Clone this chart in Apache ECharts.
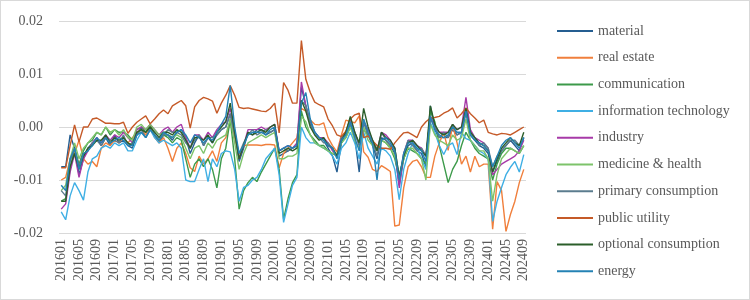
<!DOCTYPE html>
<html>
<head>
<meta charset="utf-8">
<script src="https://cdn.jsdelivr.net/npm/echarts@6/dist/echarts.min.js"></script>
<style>
  html, body { margin: 0; padding: 0; background: #fff; }
  #chart { width: 750px; height: 300px; box-sizing: border-box; border: 1px solid #d9d9d9; }
</style>
</head>
<body>
<div id="chart"></div>
<script>
const months = [
  '201601','201602','201603','201604','201605','201606','201607','201608','201609','201610','201611','201612',
  '201701','201702','201703','201704','201705','201706','201707','201708','201709','201710','201711','201712',
  '201801','201802','201803','201804','201805','201806','201807','201808','201809','201810','201811','201812',
  '201901','201902','201903','201904','201905','201906','201907','201908','201909','201910','201911','201912',
  '202001','202002','202003','202004','202005','202006','202007','202008','202009','202010','202011','202012',
  '202101','202102','202103','202104','202105','202106','202107','202108','202109','202110','202111','202112',
  '202201','202202','202203','202204','202205','202206','202207','202208','202209','202210','202211','202212',
  '202301','202302','202303','202304','202305','202306','202307','202308','202309','202310','202311','202312',
  '202401','202402','202403','202404','202405','202406','202407','202408','202409'
];

const material = [-0.0075, -0.0075, -0.0015, -0.004, -0.009, -0.006, -0.004, -0.003, -0.002, -0.0035,
  -0.002, -0.0035, -0.0015, -0.003, -0.0025, -0.0035, -0.004, -0.0015, 0, -0.001,
  -0.0005, -0.0015, -0.003, -0.0015, -0.0015, -0.0025, -0.001, -0.0005, -0.002, -0.005,
  -0.003, -0.0015, -0.0035, -0.002, -0.003, -0.0015, -0.0005, 0, 0.0025, -0.0015,
  -0.0065, -0.004, -0.001, -0.0015, -0.0005, -0.0005, -0.0015, -0.001, -0.0005, -0.0055,
  -0.005, -0.0045, -0.004, -0.0035, 0.0075, 0.004, 0.001, -0.001, -0.002, -0.0025,
  -0.004, -0.0055, -0.0085, -0.003, -0.001, 0.0005, -0.002, -0.0085, 0.001, -0.0015,
  -0.0035, -0.006, -0.002, -0.0025, -0.0035, -0.005, -0.011, -0.006, -0.0035, -0.003,
  -0.0045, -0.005, -0.0075, 0.004, -0.0005, -0.002, -0.002, -0.002, -0.0005, -0.0015,
  -0.001, 0.0035, -0.0015, -0.0025, -0.0035, -0.004, -0.005, -0.0085, -0.0065, -0.0045,
  -0.0035, -0.0025, -0.0035, -0.0045, -0.002];

const realEstate = [-0.01, -0.0095, -0.006, -0.005, -0.0025, -0.006, -0.007, -0.0065, -0.0075, -0.004,
  -0.003, -0.0035, -0.0025, -0.003, -0.002, -0.003, -0.002, -0.001, -0.0005, -0.0015,
  0.0003, -0.002, -0.003, -0.002, -0.004, -0.0065, -0.004, -0.003, -0.005, -0.0077,
  -0.0084, -0.0055, -0.007, -0.006, -0.0045, -0.0065, -0.003, -0.002, 0.001, -0.002,
  -0.0052, -0.0035, -0.0034, -0.0034, -0.0034, -0.0035, -0.0033, -0.0033, -0.0034, -0.0077,
  -0.005, -0.004, -0.003, -0.002, 0.0035, 0.003, 0.0013, 0.0005, 0.0004, 0.0008,
  -0.002, -0.0035, -0.0047, -0.0015, 0.0013, 0.001, 0.0008, 0.0021, -0.0047, -0.0057,
  -0.008, -0.0084, -0.0073, -0.0078, -0.0084, -0.0187, -0.0185, -0.0115, -0.0075, -0.0065,
  -0.0062, -0.0075, -0.0095, -0.0095, -0.0055, -0.003, -0.001, -0.0044, 0.0004, -0.003,
  -0.007, -0.0055, -0.0085, -0.0055, -0.0075, -0.007, -0.007, -0.0193, -0.0103, -0.012,
  -0.0197, -0.0165, -0.014, -0.0105, -0.008];

const communication = [-0.014, -0.0135, -0.008, -0.004, -0.007, -0.0045, -0.003, -0.0025, -0.001, -0.0015,
  0, -0.0015, -0.0005, -0.001, -0.001, -0.0015, -0.0025, -0.0005, 0, -0.001,
  0.0005, -0.0015, -0.0025, -0.0015, -0.002, -0.003, -0.002, -0.0025, -0.006, -0.0095,
  -0.007, -0.006, -0.0075, -0.006, -0.008, -0.0115, -0.006, -0.004, 0.0015, -0.006,
  -0.0155, -0.012, -0.0105, -0.0095, -0.0103, -0.0085, -0.007, -0.0055, -0.004, -0.008,
  -0.0174, -0.0135, -0.0105, -0.009, 0.003, 0, -0.0015, -0.0025, -0.0035, -0.0035,
  -0.0045, -0.005, -0.0055, -0.003, -0.002, 0, -0.0015, -0.003, -0.0005, -0.0015,
  -0.003, -0.004, -0.0025, -0.003, -0.004, -0.006, -0.0095, -0.006, -0.004, -0.0045,
  -0.005, -0.006, -0.007, 0.003, 0.001, -0.0035, -0.007, -0.0105, -0.008, -0.0065,
  -0.0035, -0.001, -0.0025, -0.004, -0.005, -0.0055, -0.006, -0.01, -0.007, -0.005,
  -0.004, -0.004, -0.0045, -0.005, -0.0035];

const infoTech = [-0.016, -0.0175, -0.013, -0.0105, -0.012, -0.0138, -0.0085, -0.006, -0.0055, -0.004,
  -0.0035, -0.004, -0.003, -0.0035, -0.003, -0.0045, -0.0045, -0.0025, -0.001, -0.002,
  -0.0005, -0.002, -0.003, -0.0025, -0.003, -0.0035, -0.003, -0.004, -0.01, -0.0103,
  -0.0103, -0.008, -0.006, -0.0103, -0.006, -0.0075, -0.005, -0.0045, -0.0047, -0.008,
  -0.014, -0.0114, -0.011, -0.01, -0.0095, -0.008, -0.006, -0.005, -0.004, -0.009,
  -0.018, -0.0145, -0.011, -0.0095, 0, -0.002, -0.003, -0.003, -0.0035, -0.004,
  -0.0045, -0.0055, -0.007, -0.004, -0.003, -0.001, -0.003, -0.006, -0.001, -0.004,
  -0.0055, -0.007, -0.004, -0.0045, -0.0055, -0.008, -0.0137, -0.008, -0.005, -0.003,
  -0.004, -0.006, -0.008, 0.0008, -0.001, -0.0035, -0.0052, -0.0035, -0.003, -0.0052,
  -0.001, -0.0022, -0.0025, -0.0035, -0.0045, -0.005, -0.006, -0.0178, -0.014, -0.0114,
  -0.009, -0.0076, -0.0065, -0.0085, -0.0052];

const industry = [-0.0155, -0.0145, -0.0085, -0.005, -0.0095, -0.006, -0.0045, -0.003, -0.002, -0.003,
  -0.0015, -0.0025, -0.0015, -0.002, -0.001, -0.002, -0.003, -0.0005, 0, -0.0005,
  0.0005, -0.0005, -0.0015, -0.0005, 0, -0.001, 0, 0.0005, -0.002, -0.004,
  -0.0015, -0.0015, -0.0025, -0.001, -0.002, -0.0005, 0.0005, 0.001, 0.0035, -0.0005,
  -0.006, -0.0035, -0.0005, -0.0005, -0.0005, 0, -0.0005, 0, 0.0005, -0.0045,
  -0.004, -0.0035, -0.004, -0.003, 0.0085, 0.004, 0.0005, -0.001, -0.002, -0.002,
  -0.003, -0.0045, -0.0055, -0.002, -0.001, 0.0015, -0.001, -0.0035, 0.001, -0.0005,
  -0.0025, -0.0045, -0.001, -0.0015, -0.0025, -0.004, -0.0115, -0.005, -0.0025, -0.0025,
  -0.0035, -0.004, -0.0055, 0.002, 0, -0.001, -0.001, -0.001, 0.0005, -0.0005,
  0, 0.0056, -0.0005, -0.002, -0.0025, -0.003, -0.004, -0.009, -0.008, -0.007,
  -0.0065, -0.006, -0.0055, -0.0045, -0.0025];

const medicine = [-0.012, -0.011, -0.006, -0.003, -0.006, -0.004, -0.003, -0.002, -0.001, -0.0015,
  0, -0.001, -0.0005, -0.0015, -0.0005, -0.002, -0.0025, 0, 0.0005, -0.0005,
  0.0005, -0.0005, -0.0015, -0.001, -0.0015, -0.002, -0.0015, -0.002, -0.004, -0.006,
  -0.004, -0.0035, -0.005, -0.003, -0.004, -0.0025, -0.002, -0.0015, 0.0015, -0.003,
  -0.008, -0.005, -0.003, -0.0025, -0.002, -0.0015, -0.002, -0.0015, -0.001, -0.006,
  -0.006, -0.0055, -0.0055, -0.005, 0.002, 0.001, -0.0015, -0.003, -0.0035, -0.004,
  -0.0045, -0.005, -0.005, -0.003, -0.002, 0, -0.0025, -0.004, 0, -0.0025,
  -0.0035, -0.0045, -0.0025, -0.003, -0.004, -0.0055, -0.009, -0.006, -0.004, -0.004,
  -0.005, -0.006, -0.01, 0.0005, -0.0015, -0.0025, -0.003, -0.0035, -0.0015, -0.0025,
  -0.002, 0.0015, -0.0025, -0.0035, -0.0045, -0.0045, -0.006, -0.014, -0.009, -0.006,
  -0.005, -0.004, -0.0045, -0.005, -0.0035];

const primaryCons = [-0.012, -0.013, -0.0065, -0.004, -0.0075, -0.005, -0.0045, -0.003, -0.0025, -0.0035,
  -0.002, -0.0025, -0.0025, -0.003, -0.0015, -0.0035, -0.003, -0.0015, -0.0005, -0.002,
  -0.0005, -0.0015, -0.0025, -0.0015, -0.0005, -0.001, -0.001, -0.0015, -0.003, -0.004,
  -0.0025, -0.0015, -0.0035, -0.002, -0.002, -0.0015, -0.0005, 0, 0.0025, -0.0015,
  -0.005, -0.003, -0.0015, -0.0005, -0.0015, -0.001, -0.0005, -0.001, -0.0005, -0.0045,
  -0.004, -0.0045, -0.004, -0.0035, 0.005, 0.004, 0.0005, -0.001, -0.002, -0.003,
  -0.003, -0.004, -0.0055, -0.002, -0.001, 0.0005, -0.001, -0.0035, 0.001, -0.0015,
  -0.0025, -0.0055, -0.001, -0.0025, -0.0035, -0.004, -0.0095, -0.005, -0.0025, -0.0035,
  -0.0045, -0.004, -0.0055, 0.0015, 0, -0.002, -0.001, -0.002, 0.0005, -0.0015,
  -0.001, 0.0025, -0.001, -0.002, -0.0035, -0.003, -0.004, -0.0075, -0.0055, -0.0045,
  -0.0035, -0.0025, -0.0025, -0.0035, -0.002];

const publicUtility = [-0.0077, -0.0077, -0.0035, 0.0004, -0.0028, 0, 0, 0.0015, 0.0017, 0.0012,
  0.0007, 0.0007, 0.0006, 0.0006, 0.0009, -0.0012, 0, 0.0009, 0.0015, 0.0021,
  0.0006, 0.0015, 0.0025, 0.0032, 0.0025, 0.004, 0.0045, 0.005, 0.004, -0.0002,
  0.0038, 0.005, 0.0056, 0.0053, 0.0049, 0.0026, 0.0045, 0.006, 0.0078, 0.006,
  0.0037, 0.0035, 0.0036, 0.0034, 0.0032, 0.003, 0.0029, 0.0035, 0.0045, -0.0011,
  0.0084, 0.0069, 0.0045, 0.0045, 0.0163, 0.009, 0.0065, 0.0047, 0.0042, 0.0038,
  0.0015, 0.0002, -0.0015, -0.0018, -0.0008, 0.0015, 0.0023, 0.0026, -0.002, -0.0017,
  -0.0026, -0.0035, -0.004, -0.004, -0.0042, -0.003, -0.002, -0.0011, -0.001, -0.0015,
  -0.002, 0, 0.001, 0.0017, 0.0018, 0.002, 0.0026, 0.003, 0.0036, 0.0017,
  0.0025, 0.0036, 0.0025, 0.0017, 0.0008, 0.0013, -0.001, -0.0013, -0.0015, -0.0012,
  -0.0013, -0.0015, -0.001, -0.0005, 0];

const optionalCons = [-0.014, -0.014, -0.0075, -0.005, -0.008, -0.0055, -0.004, -0.0035, -0.0025, -0.0025,
  -0.0015, -0.003, -0.002, -0.0025, -0.002, -0.003, -0.0035, -0.001, -0.0005, -0.001,
  0, -0.001, -0.002, -0.001, -0.001, -0.0015, -0.0005, -0.001, -0.0025, -0.004,
  -0.002, -0.002, -0.0025, -0.0015, -0.003, -0.001, 0, 0.001, 0.0045, -0.001,
  -0.006, -0.0035, -0.001, -0.0015, -0.001, -0.0005, -0.001, 0, 0.0005, -0.005,
  -0.0045, -0.004, -0.0045, -0.004, 0.005, 0.003, 0, -0.0015, -0.0025, -0.002,
  -0.0035, -0.004, -0.0055, -0.0025, -0.001, 0.002, -0.001, -0.003, 0.0035, 0,
  -0.0025, -0.0045, -0.001, -0.002, -0.0025, -0.004, -0.0095, -0.0055, -0.003, -0.0025,
  -0.0035, -0.0045, -0.0055, 0.004, 0.0005, -0.001, -0.0015, -0.001, 0.0005, -0.0005,
  0, 0.0035, -0.001, -0.002, -0.003, -0.0035, -0.0045, -0.0085, -0.006, -0.004,
  -0.003, -0.002, -0.003, -0.0035, -0.001];

const energy = [-0.011, -0.012, -0.006, -0.004, -0.008, -0.005, -0.0045, -0.0035, -0.002, -0.003,
  -0.002, -0.003, -0.0025, -0.002, -0.0025, -0.0035, -0.0035, -0.0015, -0.001, -0.002,
  -0.0005, -0.0015, -0.0025, -0.001, -0.0015, -0.002, -0.001, -0.0005, -0.0015, -0.003,
  -0.0015, -0.002, -0.003, -0.002, -0.0025, -0.001, 0.0005, 0.002, 0.0078, 0,
  -0.005, -0.0035, -0.0015, -0.001, -0.001, -0.001, -0.0015, -0.0005, 0, -0.0045,
  -0.004, -0.0035, -0.004, -0.0035, 0.0045, 0.0065, 0.0015, -0.001, -0.002, -0.0025,
  -0.0035, -0.004, -0.006, -0.0025, -0.0015, 0.001, -0.002, -0.0045, 0.0015, -0.001,
  -0.003, -0.01, -0.0025, -0.002, -0.003, -0.0045, -0.01, -0.005, -0.003, -0.003,
  -0.004, -0.0045, -0.0065, 0.002, -0.0005, -0.0015, -0.002, -0.0015, 0, -0.001,
  -0.001, 0.003, -0.0015, -0.0025, -0.003, -0.0035, -0.0045, -0.0075, -0.0055, -0.0035,
  -0.0025, -0.002, -0.003, -0.004, -0.002];

const seriesNames = ['material', 'real estate', 'communication', 'information technology', 'industry',
  'medicine & health', 'primary consumption', 'public utility', 'optional consumption', 'energy'];
const seriesData = [material, realEstate, communication, infoTech, industry,
  medicine, primaryCons, publicUtility, optionalCons, energy];
const colors = ['#255e91', '#f07f3c', '#3c9a4a', '#3fafe4', '#a73aa8',
  '#7dc36a', '#5b7c8e', '#c55a28', '#2b5e2a', '#2482b4'];

const font = "'Liberation Serif', 'Times New Roman', serif";
const chart = echarts.init(document.getElementById('chart'));

chart.setOption({
  animation: false,
  color: colors,
  grid: {left: 58, right: 223, top: 20, bottom: 66},
  legend: {
    orient: 'vertical',
    left: 556,
    top: 22,
    padding: 0,
    icon: 'rect',
    itemWidth: 36,
    itemHeight: 2,
    itemGap: 10.7,
    textStyle: {fontFamily: font, fontSize: 14, color: '#595959', lineHeight: 16},
    data: seriesNames
  },
  xAxis: {
    type: 'category',
    data: months,
    boundaryGap: true,
    axisLine: {show: false},
    axisTick: {show: false},
    axisLabel: {
      interval: 3,
      rotate: 90,
      margin: 6,
      fontFamily: font,
      fontSize: 14,
      color: '#595959'
    }
  },
  yAxis: {
    type: 'value',
    min: -0.02,
    max: 0.02,
    interval: 0.01,
    axisLine: {show: false},
    axisTick: {show: false},
    splitLine: {lineStyle: {color: '#d9d9d9', width: 1}},
    axisLabel: {
      margin: 16,
      fontFamily: font,
      fontSize: 14,
      color: '#595959',
      formatter: v => v.toFixed(2)
    }
  },
  series: seriesNames.map((name, i) => ({
    name: name,
    type: 'line',
    data: seriesData[i],
    symbol: 'none',
    lineStyle: {width: 1.4},
    z: 2 + i
  }))
});
</script>
</body>
</html>
